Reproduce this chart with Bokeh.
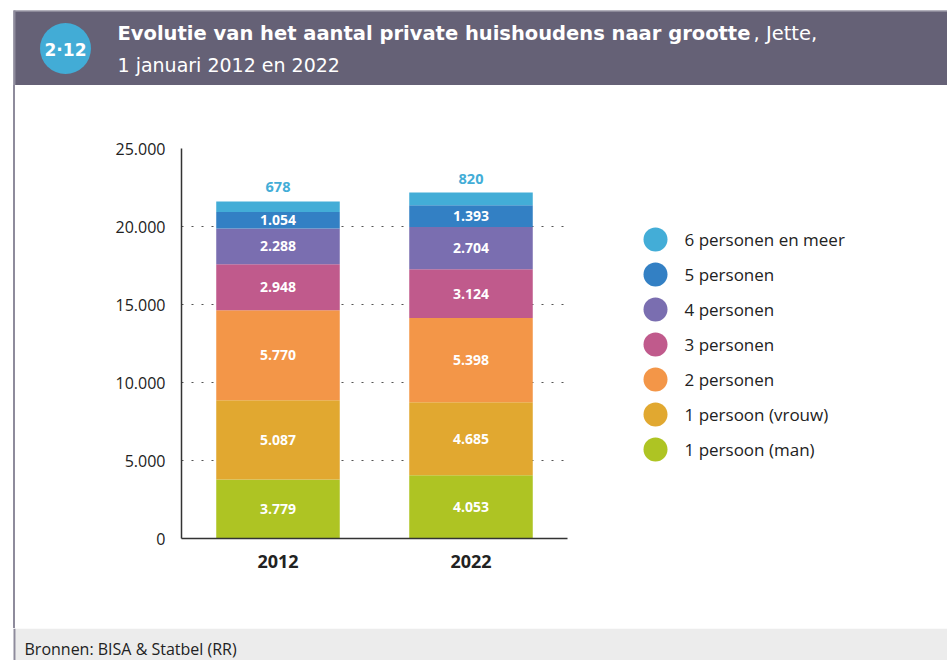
from bokeh.plotting import figure
from bokeh.models import ColumnDataSource, Range1d, LabelSet, FixedTicker, Div
from bokeh.layouts import column, row
from bokeh.core.properties import value
from bokeh.embed import file_html
from bokeh.resources import INLINE

# ---------------- data ----------------
years = ["2012", "2022"]
series_keys = ["man", "vrouw", "twee", "drie", "vier", "vijf", "zes"]
series_names = ["1 persoon (man)", "1 persoon (vrouw)", "2 personen", "3 personen",
                "4 personen", "5 personen", "6 personen en meer"]
man = [3779, 4053]
vrouw = [5087, 4685]
twee = [5770, 5398]
drie = [2948, 3124]
vier = [2288, 2704]
vijf = [1054, 1393]
zes = [678, 820]
colors = ["#aec423", "#e1a830", "#f39648", "#c05a8c", "#7a6eb0", "#3380c4", "#43add7"]
y_ticks = [0, 5000, 10000, 15000, 20000, 25000]
y_tick_labels = ["0", "5.000", "10.000", "15.000", "20.000", "25.000"]

title_bold = "Evolutie van het aantal private huishoudens naar grootte"
title_rest = ", Jette,"
title_line2 = "1 januari 2012 en 2022"
badge_text = "2\u00b712"
source_text = "Bronnen: BISA & Statbel (RR)"

FONT = "Open Sans"
TFONT = "DejaVu Sans"
HEADER = "#656176"
BORDER = "#8e8b9c"

def fmt(v):
    return f"{v:,}".replace(",", ".")

W, H = 947, 660
HEAD_H, FOOT_H = 85, 32
MID_H = H - HEAD_H - FOOT_H
STRIP_W, LEG_W = 20, 347
MAIN_W = W - STRIP_W - LEG_W
FR_L, FR_R, FR_T, FR_B = 181, 567, 148, 538   # chart frame in page pixels


def deco_fig(w, h, x0, y0, top=0, bottom=0):
    """Figure whose data coordinates equal page pixels (y downward)."""
    f = figure(width=w, height=h, x_range=Range1d(x0, x0 + w),
               y_range=Range1d(y0 + h - bottom, y0 + top),
               x_axis_type=None, y_axis_type=None, output_backend="svg",
               toolbar_location=None, min_border=0,
               min_border_top=top, min_border_bottom=bottom)
    f.outline_line_color = None
    f.background_fill_color = "white"
    f.border_fill_color = "white"
    return f


def txt(f, x, y, text, size, color, style="normal", align="left", font=FONT):
    f.text(x=[x], y=[y], text=[text], text_font=value(font), text_font_size=size,
           text_color=color, text_font_style=style, text_align=align,
           text_baseline="middle")

# ---------------- header ----------------
head = deco_fig(W, HEAD_H, 0, 0)
head.quad(left=[13], right=[W], top=[10], bottom=[85], fill_color=HEADER, line_color=None)
head.quad(left=[13], right=[W], top=[10], bottom=[11], fill_color="#b4b2bc", line_color=None)
head.quad(left=[13], right=[15], top=[10], bottom=[85], fill_color=BORDER, line_color=None)
head.scatter(x=[65], y=[48], size=51, fill_color="#42acd6", line_color=None)
txt(head, 65, 49, badge_text, "17px", "white", "bold", "center", TFONT)
txt(head, 117, 33, title_bold, "19.5px", "white", "bold", font=TFONT)
txt(head, 753, 33, title_rest, "19.5px", "white", font=TFONT)
txt(head, 117, 64, title_line2, "19px", "white", font=TFONT)

# ---------------- left border strip ----------------
strip = Div(text=f'<div style="margin-left:13px;width:2px;height:{MID_H}px;'
                 f'background:{BORDER}"></div>',
            width=STRIP_W, height=MID_H, margin=0)

# ---------------- main chart ----------------
xpos = [i + 0.5 for i in range(len(years))]
series = [man, vrouw, twee, drie, vier, vijf, zes]
src = ColumnDataSource(dict(x=xpos, **{k: s for k, s in zip(series_keys, series)}))

lx, ly, lt = [], [], []
tx, ty, tt = [], [], []
for i, xp in enumerate(xpos):
    cum = 0
    for j, s in enumerate(series):
        v = s[i]
        if j < len(series) - 1:
            lx.append(xp); ly.append(cum + v / 2); lt.append(fmt(v))
        cum += v
    tx.append(xp); ty.append(cum); tt.append(fmt(series[-1][i]))
inner_src = ColumnDataSource(dict(x=lx, y=ly, t=lt))
top_src = ColumnDataSource(dict(x=tx, y=ty, t=tt))

p = figure(x_range=Range1d(0, len(years)), y_range=Range1d(0, 25000),
           width=MAIN_W, height=MID_H, output_backend="svg", toolbar_location=None,
           min_border_left=FR_L - STRIP_W, min_border_right=MAIN_W - (FR_R - STRIP_W),
           min_border_top=FR_T - HEAD_H, min_border_bottom=(HEAD_H + MID_H) - FR_B)
p.outline_line_color = None
p.background_fill_color = "white"
p.border_fill_color = "white"

p.vbar_stack(series_keys, x="x", width=0.64, color=colors, line_color=None, source=src)

p.add_layout(LabelSet(x="x", y="y", text="t", source=inner_src, text_align="center",
                      text_baseline="middle", text_color="white",
                      text_font=value(FONT), text_font_style="bold",
                      text_font_size="14px"))
p.add_layout(LabelSet(x="x", y="y", text="t", source=top_src, text_align="center",
                      text_baseline="middle", text_color="#43add7", y_offset=14,
                      text_font=value(FONT), text_font_style="bold",
                      text_font_size="14.5px"))

p.yaxis.ticker = FixedTicker(ticks=y_ticks)
p.yaxis.major_label_overrides = dict(zip(y_ticks, y_tick_labels))
p.yaxis.major_tick_line_color = None
p.yaxis.minor_tick_line_color = None
p.yaxis.axis_line_color = "#333333"
p.yaxis.axis_line_width = 1.5
p.yaxis.major_label_text_font = FONT
p.yaxis.major_label_text_font_size = "16px"
p.yaxis.major_label_text_color = "#222222"
p.yaxis.major_label_standoff = 10

p.xaxis.ticker = FixedTicker(ticks=xpos)
p.xaxis.major_label_overrides = dict(zip(xpos, years))
p.xaxis.major_tick_line_color = None
p.xaxis.minor_tick_line_color = None
p.xaxis.axis_line_color = "#333333"
p.xaxis.axis_line_width = 1.5
p.xaxis.major_label_text_font = FONT
p.xaxis.major_label_text_font_size = "18px"
p.xaxis.major_label_text_font_style = "bold"
p.xaxis.major_label_text_color = "#222222"
p.xaxis.major_label_standoff = 10

p.xgrid.visible = False
p.ygrid.ticker = FixedTicker(ticks=y_ticks[1:])
p.ygrid.grid_line_dash = "2 8"
p.ygrid.grid_line_color = "#555555"
p.ygrid.grid_line_width = 1.2

# ---------------- legend (frame aligned with the chart frame) ----------------
leg = deco_fig(LEG_W, MID_H, W - LEG_W, HEAD_H, top=FR_T - HEAD_H,
               bottom=(HEAD_H + MID_H) - FR_B)
n = len(series_names)
order = list(range(n - 1, -1, -1))
leg_src = ColumnDataSource(dict(
    x=[655] * n,
    y=[239 + 35 * k for k in range(n)],
    c=[colors[i] for i in order],
    t=[series_names[i] for i in order],
))
leg.scatter(x="x", y="y", size=24, fill_color="c", line_color=None, source=leg_src)
leg.text(x=684, y="y", text="t", source=leg_src, text_font=value(FONT),
         text_font_size="17px", text_color="#222222", text_baseline="middle")

# ---------------- footer ----------------
foot = deco_fig(W, FOOT_H, 0, H - FOOT_H)
foot.quad(left=[15], right=[W], top=[H - FOOT_H], bottom=[H], fill_color="#ececec", line_color=None)
foot.quad(left=[13], right=[15], top=[H - FOOT_H], bottom=[H], fill_color=BORDER, line_color=None)
txt(foot, 24, 648, source_text, "16px", "#222222")

layout = column(head, row(strip, p, leg), foot)
open("out.html", "w").write(file_html(layout, INLINE))
